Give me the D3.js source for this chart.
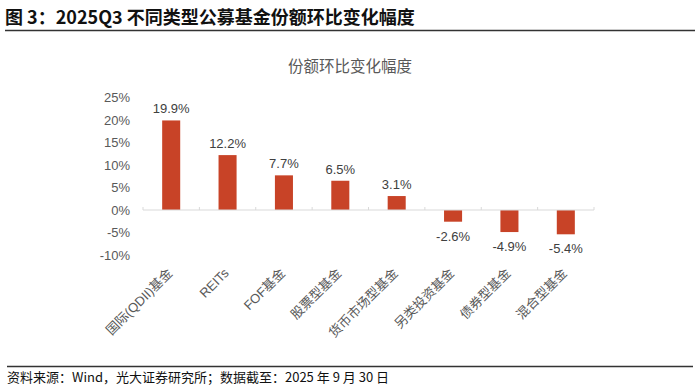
<!DOCTYPE html>
<html><head><meta charset="utf-8">
<script src="https://cdn.jsdelivr.net/npm/d3@7/dist/d3.min.js"></script>
<style>
body{margin:0;background:#fff;}
svg{display:block;}
</style></head>
<body><svg id="c" width="700" height="388"></svg>
<script>
const categories = ["国际(QDII)基金","REITs","FOF基金","股票型基金","货币市场型基金","另类投资基金","债券型基金","混合型基金"];
const values = [19.9, 12.2, 7.7, 6.5, 3.1, -2.6, -4.9, -5.4];
const yTicks = [25, 20, 15, 10, 5, 0, -5, -10];
const titleText = "图 3：2025Q3 不同类型公募基金份额环比变化幅度";
const chartTitle = "份额环比变化幅度";
const sourceText = "资料来源：Wind，光大证券研究所；数据截至：2025 年 9 月 30 日";

const svg = d3.select("#c");
const cjk = "'Noto Sans CJK SC','Noto Sans',sans-serif";
const lat = "'Liberation Sans',Arial,'Noto Sans CJK SC',sans-serif";

svg.append("text").attr("x",5).attr("y",24).attr("font-family",cjk).attr("font-weight","bold")
  .attr("font-size",18).attr("fill","#111").text(titleText);
svg.append("line").attr("x1",5).attr("x2",695).attr("y1",30.5).attr("y2",30.5).attr("stroke","#333").attr("stroke-width",1.5);

svg.append("text").attr("x",350).attr("y",72).attr("text-anchor","middle").attr("font-family",cjk)
  .attr("font-size",15.5).attr("fill","#595959").text(chartTitle);

const x = d3.scaleBand().domain(categories).range([143,594]).paddingInner(0.68).paddingOuter(0.34);
const y = d3.scaleLinear().domain([-10,25]).range([255,97.5]);

const g = svg.append("g");
// y tick labels
g.selectAll(".yt").data(yTicks).enter().append("text")
  .attr("x",130).attr("y",d=>y(d)+4.5).attr("text-anchor","end")
  .attr("font-family",lat).attr("font-size",13).attr("fill","#595959").text(d=>d+"%");

// bars
g.selectAll(".bar").data(values).enter().append("rect")
  .attr("x",(d,i)=>x(categories[i])).attr("width",x.bandwidth())
  .attr("y",d=>y(Math.max(0,d))).attr("height",d=>Math.abs(y(d)-y(0)))
  .attr("fill","#c84327");

// axis
const xAxis = d3.axisBottom(x).tickSize(0).tickFormat("");
const ax = g.append("g").attr("transform",`translate(0,${y(0)})`).call(xAxis);
ax.select(".domain").attr("stroke","#d9d9d9").attr("d","M143,0H594");
const bounds = d3.range(categories.length+1).map(i=>143+i*(451/categories.length));
g.selectAll(".tk").data(bounds).enter().append("line")
  .attr("x1",d=>d).attr("x2",d=>d).attr("y1",y(0)-3).attr("y2",y(0)).attr("stroke","#d9d9d9");

// value labels
g.selectAll(".vl").data(values).enter().append("text")
  .attr("x",(d,i)=>x(categories[i])+x.bandwidth()/2)
  .attr("y",d=> d>=0 ? y(d)-7 : y(d)+19)
  .attr("text-anchor","middle").attr("font-family",lat).attr("font-size",13).attr("fill","#404040")
  .text(d=>d.toFixed(1)+"%");

// category labels
g.selectAll(".cl").data(categories).enter().append("text")
  .attr("transform",d=>`translate(${x(d)+x.bandwidth()/2+2},${274}) rotate(-45)`)
  .attr("text-anchor","end").attr("font-family",lat).attr("font-size",13).attr("fill","#595959")
  .text(d=>d);

svg.append("line").attr("x1",7).attr("x2",693).attr("y1",366.5).attr("y2",366.5).attr("stroke","#333").attr("stroke-width",1.5);
svg.append("text").attr("x",7).attr("y",382).attr("font-family",cjk).attr("font-size",13).attr("fill","#111").text(sourceText);
</script></body></html>
